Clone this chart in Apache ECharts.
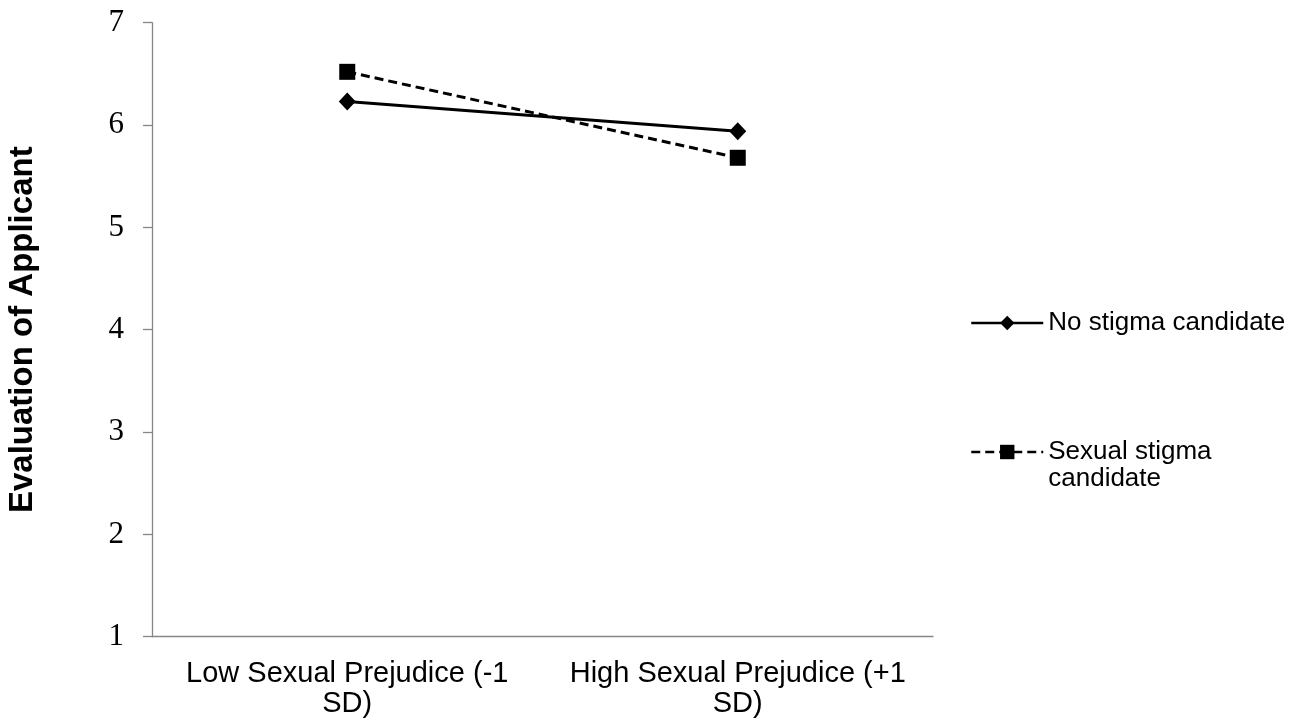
<!DOCTYPE html>
<html>
<head>
<meta charset="utf-8">
<script src="https://cdn.jsdelivr.net/npm/echarts@6/dist/echarts.min.js"></script>
<style>
  html, body { margin: 0; padding: 0; background: #fff; }
  #chart { width: 1299px; height: 728px; }
</style>
</head>
<body>
<div id="chart"></div>
<script>
// data
const categories = ["Low Sexual Prejudice (-1 SD)", "High Sexual Prejudice (+1 SD)"];
const noStigma = [6.23, 5.94];
const sexualStigma = [6.52, 5.68];
const yTicks = { min: 1, max: 7, interval: 1 };

const axisGray = "#868686";
const sans = "'Liberation Sans', Arial, sans-serif";

let myChart = echarts.init(document.getElementById("chart"));
myChart.setOption({
  animation: false,
  grid: { left: 152, right: 366, top: 22.7, bottom: 91.3, containLabel: false, outerBoundsMode: "none" },
  legend: [
    {
      data: ["No stigma candidate"],
      orient: "vertical",
      left: 970,
      top: 310,
      padding: 0,
      itemWidth: 72,
      itemHeight: 18,
      lineStyle: { width: 2.5 },
      textStyle: { fontFamily: sans, fontSize: 26, lineHeight: 26, color: "#000" },
    },
    {
      data: ["Sexual stigma candidate"],
      orient: "vertical",
      left: 970,
      top: 411.5,
      padding: 0,
      itemWidth: 72,
      itemHeight: 18,
      lineStyle: { width: 2.5 },
      // blank first line keeps "Sexual stigma" level with the icon
      formatter: () => " \nSexual stigma\ncandidate",
      textStyle: { fontFamily: sans, fontSize: 26, lineHeight: 27, color: "#000" },
    },
  ],
  xAxis: {
    type: "category",
    data: categories,
    axisLine: { lineStyle: { color: axisGray, width: 1.3 } },
    axisTick: { length: 9, lineStyle: { color: axisGray, width: 1.3 } },
    axisLabel: {
      interval: 0,
      margin: 22,
      color: "#000",
      fontFamily: sans,
      fontSize: 29,
      lineHeight: 30,
      formatter: (v) => v.replace(" SD)", "\nSD)"),
    },
  },
  yAxis: {
    type: "value",
    min: yTicks.min,
    max: yTicks.max,
    interval: yTicks.interval,
    name: "Evaluation of Applicant",
    nameLocation: "middle",
    nameGap: 113,
    nameTextStyle: { fontFamily: sans, fontSize: 33, fontWeight: "bold", color: "#000" },
    axisLine: { show: true, lineStyle: { color: axisGray, width: 1.3 } },
    axisTick: { show: true, length: 9, lineStyle: { color: axisGray, width: 1.3 } },
    splitLine: { show: false },
    axisLabel: {
      margin: 28,
      color: "#000",
      fontFamily: "'Liberation Serif', 'Times New Roman', serif",
      fontSize: 31,
    },
  },
  series: [
    {
      name: "No stigma candidate",
      type: "line",
      data: noStigma,
      symbol: "diamond",
      symbolSize: [17, 18],
      itemStyle: { color: "#000" },
      lineStyle: { color: "#000", width: 3 },
    },
    {
      name: "Sexual stigma candidate",
      type: "line",
      data: sexualStigma,
      symbol: "rect",
      symbolSize: 16,
      itemStyle: { color: "#000" },
      lineStyle: { color: "#000", width: 3, type: [9, 5] },
    },
  ],
});
</script>
</body>
</html>
